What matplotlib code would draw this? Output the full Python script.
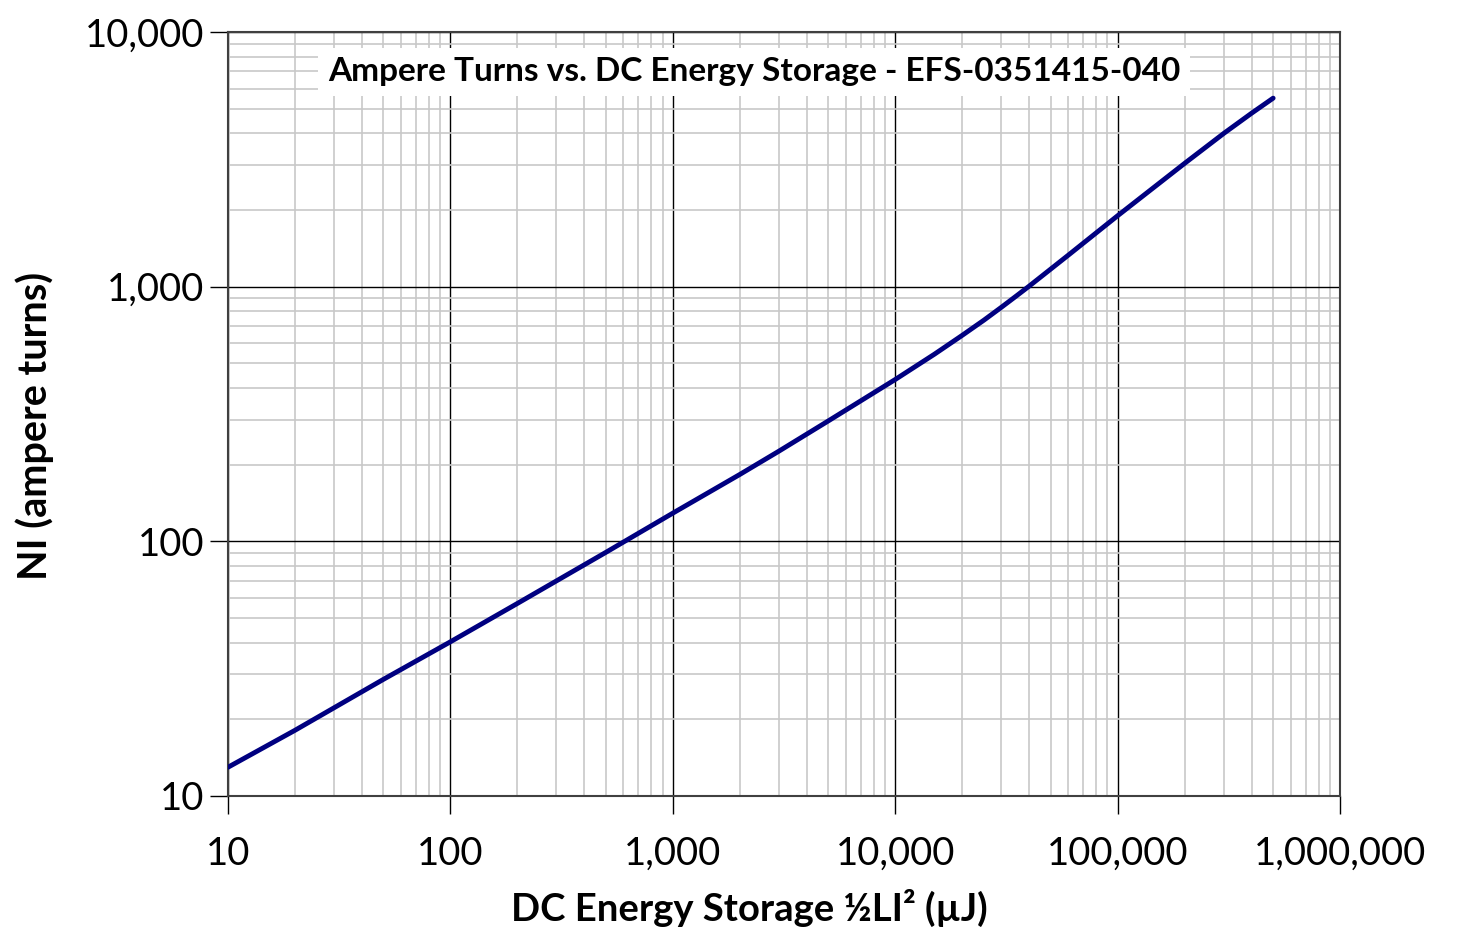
import matplotlib
matplotlib.use("Agg")
import matplotlib.pyplot as plt
from matplotlib.ticker import LogLocator, FuncFormatter, NullFormatter

# values
energy_uj = [10, 20, 50, 100, 200, 500, 1000, 2000, 3000, 5000, 10000, 15000, 20000, 25000,
             30000, 35000, 40000, 60000, 100000, 200000, 300000, 400000, 500000]
ampere_turns = [12.96, 18.1, 28.7, 40.3, 57.0, 90.5, 129, 183, 226, 297, 432, 543, 644, 738,
                830, 919, 1005, 1330, 1900, 3050, 4000, 4800, 5500]

title = "Ampere Turns vs. DC Energy Storage - EFS-0351415-040"
xlabel = "DC Energy Storage ½LI² (µJ)"
ylabel = "NI (ampere turns)"

plt.rcParams['font.family'] = ['Lato', 'DejaVu Sans']

fig = plt.figure(figsize=(14.63, 9.34), dpi=100)
ax = fig.add_axes([0.1558, 0.1478, 0.916 - 0.1558, 0.9657 - 0.1478])

ax.set_xscale("log")
ax.set_yscale("log")
ax.set_xlim(10, 1e6)
ax.set_ylim(10, 1e4)

ax.xaxis.set_major_locator(LogLocator(base=10, numticks=20))
ax.yaxis.set_major_locator(LogLocator(base=10, numticks=20))
ax.xaxis.set_minor_locator(LogLocator(base=10, subs=range(2, 10), numticks=20))
ax.yaxis.set_minor_locator(LogLocator(base=10, subs=range(2, 10), numticks=20))
fmt = FuncFormatter(lambda v, p: "{:,.0f}".format(v))
ax.xaxis.set_major_formatter(fmt)
ax.yaxis.set_major_formatter(fmt)
ax.xaxis.set_minor_formatter(NullFormatter())
ax.yaxis.set_minor_formatter(NullFormatter())

ax.grid(True, which="minor", color="#c8c8c8", linewidth=1.2)
ax.grid(True, which="major", color="black", linewidth=1.0)
ax.set_axisbelow(True)

ax.tick_params(which="major", direction="out", length=13, width=1.0, labelsize=27.5)
ax.tick_params(axis="x", pad=16)
ax.tick_params(axis="y", pad=4)
ax.tick_params(which="minor", length=0)
for s in ax.spines.values():
    s.set_color("#404040")
    s.set_linewidth(1.5)

ax.plot(energy_uj, ampere_turns, color="#000080", linewidth=3.5,
        solid_capstyle="round", solid_joinstyle="round", zorder=3)

ax.set_xlabel(xlabel, fontsize=27.5, fontweight="bold", labelpad=12)
ax.xaxis.label.set_x(0.469)
ax.set_ylabel(ylabel, fontsize=28.5, fontweight="bold", labelpad=22)
ax.yaxis.label.set_y(0.485)

ax.text(0.473, 0.948, title, transform=ax.transAxes, ha="center", va="center",
        fontsize=24, fontweight="bold", zorder=5,
        bbox=dict(facecolor="white", edgecolor="none", pad=7))

fig.savefig("out.png", dpi=100)
